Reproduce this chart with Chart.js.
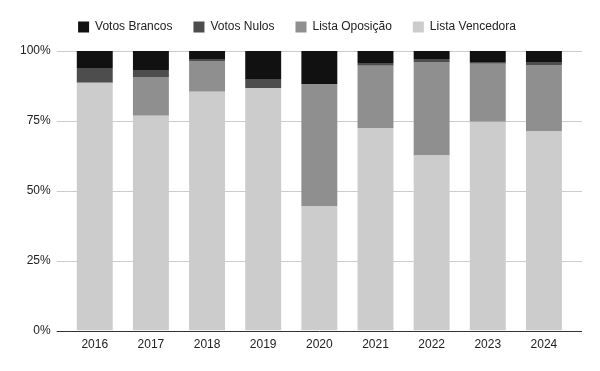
<!DOCTYPE html>
<html>
<head>
<meta charset="utf-8">
<script src="https://cdn.jsdelivr.net/npm/chart.js@4/dist/chart.umd.min.js"></script>
<style>
  html, body { margin: 0; padding: 0; background: #ffffff; }
  #wrap { width: 600px; height: 371px; }
</style>
</head>
<body>
<div id="wrap"><canvas id="c" width="600" height="371"></canvas></div>
<script>
const categories = ['2016', '2017', '2018', '2019', '2020', '2021', '2022', '2023', '2024'];
const listaVencedora = [88.6, 76.8, 85.4, 86.8, 44.4, 72.5, 62.6, 74.7, 71.2];
const listaOposicao  = [0.0, 13.9, 11.0, 0.0, 43.8, 22.2, 33.5, 20.7, 23.8];
const votosNulos     = [5.3, 2.5, 0.7, 2.9, 0.0, 1.0, 1.0, 0.7, 1.1];
const votosBrancos   = [6.1, 6.8, 2.9, 10.3, 11.8, 4.3, 2.9, 3.9, 3.9];
const yTicks = [0, 25, 50, 75, 100];

const FONT = "'Liberation Sans', Arial, sans-serif";

const gridPlugin = {
  id: 'extGrid',
  beforeInit(chart) {
    const legend = chart.legend;
    if (legend) {
      const fit = legend.fit;
      legend.fit = function () { fit.call(this); this.height += 8; };
    }
  },
  afterLayout(chart) {
    if (chart.legend) {
      chart.legend.left += 9;
      chart.legend.right += 9;
    }
  },
  beforeDatasetsDraw(chart) {
    const { ctx, chartArea, scales } = chart;
    const y = scales.y;
    ctx.save();
    ctx.strokeStyle = '#cccccc';
    ctx.lineWidth = 1;
    yTicks.forEach(v => {
      if (v === 0) return;
      const py = Math.round(y.getPixelForValue(v)) + 0.5;
      ctx.beginPath();
      ctx.moveTo(chartArea.left - 10, py);
      ctx.lineTo(chartArea.right + 10, py);
      ctx.stroke();
    });
    ctx.restore();
  },
  afterDatasetsDraw(chart) {
    const { ctx, chartArea, scales } = chart;
    const py = Math.round(scales.y.getPixelForValue(0)) + 0.5;
    ctx.save();
    ctx.strokeStyle = '#333333';
    ctx.lineWidth = 1;
    ctx.beginPath();
    ctx.moveTo(chartArea.left - 10, py);
    ctx.lineTo(chartArea.right + 10, py);
    ctx.stroke();
    ctx.restore();
  }
};

new Chart(document.getElementById('c'), {
  type: 'bar',
  data: {
    labels: categories,
    datasets: [
      { label: 'Lista Vencedora', data: listaVencedora, backgroundColor: '#cccccc' },
      { label: 'Lista Oposição', data: listaOposicao, backgroundColor: '#8f8f8f' },
      { label: 'Votos Nulos', data: votosNulos, backgroundColor: '#4d4d4d' },
      { label: 'Votos Brancos', data: votosBrancos, backgroundColor: '#111111' }
    ]
  },
  options: {
    responsive: false,
    animation: false,
    devicePixelRatio: 1,
    layout: { padding: { left: 4, right: 28, top: 0, bottom: 12 } },
    datasets: { bar: { barPercentage: 0.64, categoryPercentage: 1.0, borderWidth: 0 } },
    plugins: {
      legend: {
        display: true,
        position: 'top',
        reverse: true,
        labels: {
          boxWidth: 11,
          boxHeight: 11,
          padding: 21,
          color: '#222222',
          font: { family: FONT, size: 12 }
        }
      },
      tooltip: { enabled: false }
    },
    scales: {
      x: {
        stacked: true,
        grid: { display: false, drawTicks: false },
        border: { display: false },
        ticks: { color: '#222222', padding: 7, font: { family: FONT, size: 12 } }
      },
      y: {
        stacked: true,
        min: 0,
        max: 100,
        afterBuildTicks(scale) { scale.ticks = yTicks.map(v => ({ value: v })); },
        grid: { display: false, drawTicks: false },
        border: { display: false },
        ticks: {
          color: '#222222',
          padding: 16,
          font: { family: FONT, size: 12 },
          callback: v => v + '%'
        }
      }
    }
  },
  plugins: [gridPlugin]
});
</script>
</body>
</html>
